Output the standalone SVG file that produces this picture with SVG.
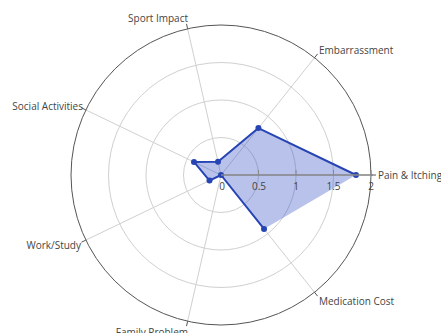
<svg xmlns="http://www.w3.org/2000/svg" width="441" height="333" viewBox="0 0 441 333">
<style>
.grid{fill:none;stroke:#d0d0d0;stroke-width:1}
.outer{fill:none;stroke:#555;stroke-width:1}
.tick{stroke:#555;stroke-width:1}
.lbl{font-family:"Open Sans","Liberation Sans",sans-serif;font-size:10px;fill:#444}
.trace{fill:rgba(40,70,190,0.33);stroke:none}
.line{fill:none;stroke:#2744b4;stroke-width:2;stroke-linejoin:round}
.pt{fill:#2744b4}
</style>
<rect width="441" height="333" fill="#fff"/>
<g id="grid">
<circle class="grid" cx="221" cy="175" r="37.5"/>
<circle class="grid" cx="221" cy="175" r="75"/>
<circle class="grid" cx="221" cy="175" r="112.5"/>
<g class="grid">
<line x1="221" y1="175" x2="371" y2="175"/>
<line x1="221" y1="175" x2="314.52" y2="57.73"/>
<line x1="221" y1="175" x2="187.62" y2="28.76"/>
<line x1="221" y1="175" x2="85.85" y2="109.92"/>
<line x1="221" y1="175" x2="85.85" y2="240.08"/>
<line x1="221" y1="175" x2="187.62" y2="321.24"/>
<line x1="221" y1="175" x2="314.52" y2="292.27"/>
</g>
<circle class="outer" cx="221" cy="175" r="150"/>
<g class="tick">
<line x1="371" y1="175" x2="376" y2="175"/>
<line x1="314.52" y1="57.73" x2="317.64" y2="53.82"/>
<line x1="187.62" y1="28.76" x2="186.51" y2="23.89"/>
<line x1="85.85" y1="109.92" x2="81.35" y2="107.75"/>
<line x1="85.85" y1="240.08" x2="81.35" y2="242.25"/>
<line x1="187.62" y1="321.24" x2="186.51" y2="326.11"/>
<line x1="314.52" y1="292.27" x2="317.64" y2="296.18"/>
</g>
</g>
<g id="trace">
<polygon class="trace" points="356,175 258.41,128.09 218,161.84 193.97,161.98 209.51,180.53 221,175 264.02,228.94"/>
<polyline class="line" points="356,175 258.41,128.09 218,161.84 193.97,161.98 209.51,180.53 221,175 264.02,228.94"/>
<circle class="pt" cx="356" cy="175" r="3"/>
<circle class="pt" cx="258.41" cy="128.09" r="3"/>
<circle class="pt" cx="218" cy="161.84" r="3"/>
<circle class="pt" cx="193.97" cy="161.98" r="3"/>
<circle class="pt" cx="209.51" cy="180.53" r="3"/>
<circle class="pt" cx="221" cy="175" r="3"/>
<circle class="pt" cx="264.02" cy="228.94" r="3"/>
</g>
<g id="radial-axis">
<line x1="221" y1="175" x2="373" y2="175" stroke="#888" stroke-width="1.5"/>
<g stroke="#888" stroke-width="1">
<line x1="258.5" y1="170" x2="258.5" y2="175"/>
<line x1="296" y1="170" x2="296" y2="175"/>
<line x1="333.5" y1="170" x2="333.5" y2="175"/>
<line x1="371" y1="170" x2="371" y2="175"/>
</g>
<g class="lbl" text-anchor="middle">
<text x="222" y="190">0</text>
<text x="259" y="190">0.5</text>
<text x="296" y="190">1</text>
<text x="333.5" y="190">1.5</text>
<text x="371" y="190">2</text>
</g>
</g>
<g id="labels" class="lbl">
<text x="378" y="178.5">Pain &amp; Itching</text>
<text x="319" y="54">Embarrassment</text>
<text x="188" y="22" text-anchor="end">Sport Impact</text>
<text x="83" y="110" text-anchor="end">Social Activities</text>
<text x="81" y="249" text-anchor="end">Work/Study</text>
<text x="188" y="336" text-anchor="end">Family Problem</text>
<text x="319" y="305">Medication Cost</text>
</g>
</svg>
